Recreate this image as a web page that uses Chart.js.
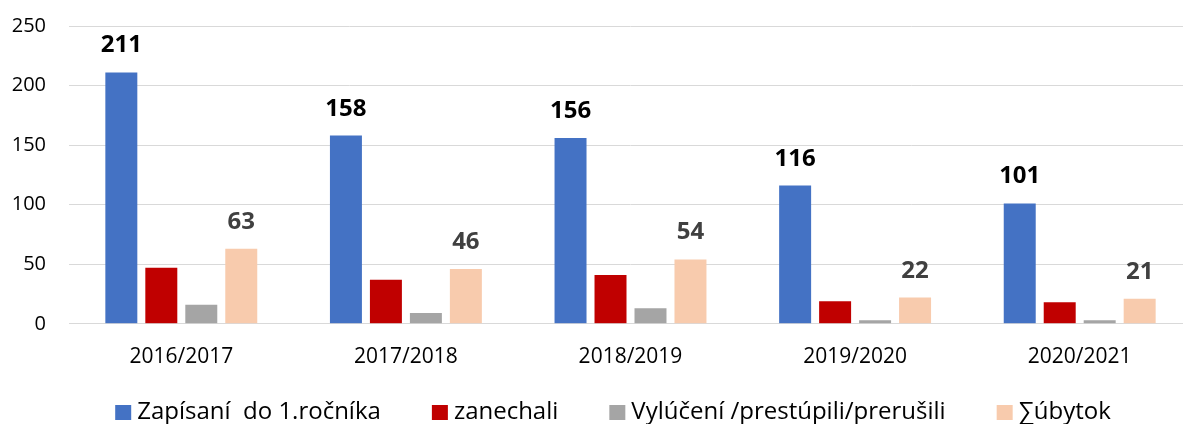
<!DOCTYPE html>
<html><head><meta charset="utf-8">
<script src="https://cdn.jsdelivr.net/npm/chart.js@4"></script>
<style>html,body{margin:0;padding:0;background:#fff;overflow:hidden}#w{width:1192px;height:424px}</style>
</head><body><div id="w"><canvas id="c"></canvas></div>
<script>
const categories = ["2016/2017","2017/2018","2018/2019","2019/2020","2020/2021"];
const seriesNames = ["Zapísaní  do 1.ročníka","zanechali","Vylúčení /prestúpili/prerušili","∑úbytok"];
const zapisani = [211,158,156,116,101];
const zanechali = [47,37,41,19,18];
const vyluceni = [16,9,13,3,3];
const ubytok = [63,46,54,22,21];
const yTicks = [0,50,100,150,200,250];

const FONT = "'Open Sans', 'Liberation Sans', sans-serif";
const labelPlugin = {
  id:'lbl',
  afterDatasetsDraw(chart){
    const ctx = chart.ctx;
    [[0,'#000000'],[3,'#404040']].forEach(([di,col])=>{
      const meta = chart.getDatasetMeta(di);
      const data = chart.data.datasets[di].data;
      ctx.save();
      ctx.font = "bold 24px " + FONT;
      ctx.fillStyle = col;
      ctx.textAlign = 'center';
      ctx.textBaseline = 'alphabetic';
      meta.data.forEach((el,i)=>{
        ctx.fillText(String(data[i]), el.x, el.y - 20);
      });
      ctx.restore();
    });
  }
};
const legendPlugin = {
  id:'customLegend',
  afterDraw(chart){
    const ctx = chart.ctx;
    const ds = chart.data.datasets;
    ctx.save();
    ctx.font = "24px " + FONT;
    const box = 16, gapText = 6, gapItem = 51;
    const widths = ds.map(d => box + gapText + ctx.measureText(d.label).width);
    const total = widths.reduce((a,b)=>a+b,0) + gapItem*(ds.length-1);
    let x = 613 - total/2;
    const cy = 412.5;
    ds.forEach((d,i)=>{
      ctx.fillStyle = d.backgroundColor;
      ctx.fillRect(x, cy-7.5, box, 15);
      ctx.fillStyle = '#000000';
      ctx.textAlign = 'left';
      ctx.textBaseline = 'middle';
      ctx.fillText(d.label, x + box + gapText, cy);
      x += widths[i] + gapItem;
    });
    ctx.restore();
  }
};

new Chart(document.getElementById('c'),{
  type:'bar',
  data:{labels:categories,datasets:[
    {label:seriesNames[0],data:zapisani,backgroundColor:'#4472c4'},
    {label:seriesNames[1],data:zanechali,backgroundColor:'#c00000'},
    {label:seriesNames[2],data:vyluceni,backgroundColor:'#a5a5a5'},
    {label:seriesNames[3],data:ubytok,backgroundColor:'#f8cbad'}
  ]},
  options:{
    responsive:true,maintainAspectRatio:false,animation:false,
    layout:{padding:{top:26,right:0,left:0,bottom:33}},
    datasets:{bar:{categoryPercentage:0.712,barPercentage:0.8}},
    plugins:{
      legend:{display:false},
      tooltip:{enabled:false}
    },
    scales:{
      x:{grid:{display:false,drawTicks:false},border:{color:'#d9d9d9',width:1},
         ticks:{color:'#000000',font:{size:21,family:FONT},padding:21}},
      y:{min:0,max:250,afterBuildTicks(s){s.ticks=yTicks.map(v=>({value:v}));},
         afterFit(s){s.width=69;s.paddingTop=0;s.paddingBottom=0;},
         grid:{color:'#d9d9d9',lineWidth:1,drawTicks:false},border:{display:false},
         ticks:{color:'#000000',font:{size:20,family:FONT},padding:23}}
    }
  },
  plugins:[labelPlugin,legendPlugin]
});
</script></body></html>
